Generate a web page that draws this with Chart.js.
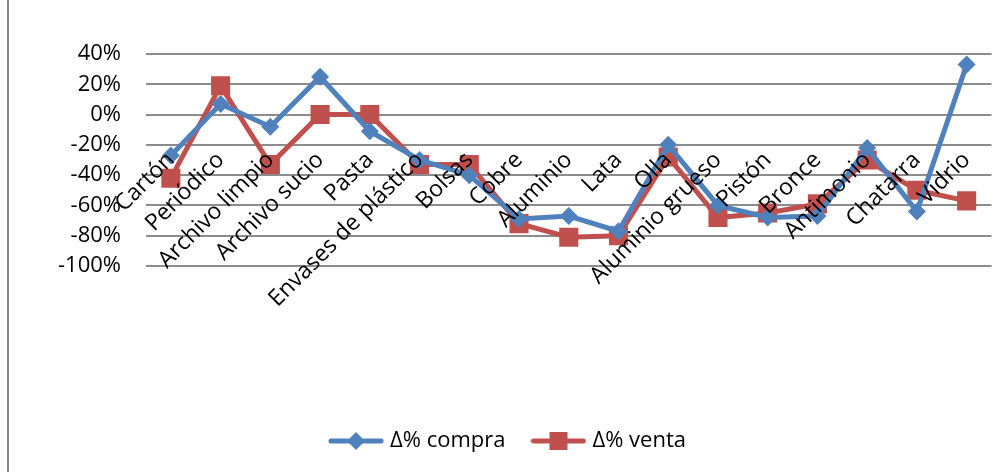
<!DOCTYPE html>
<html>
<head>
<meta charset="utf-8">
<script src="https://cdn.jsdelivr.net/npm/chart.js@4"></script>
<style>
  html, body { margin: 0; padding: 0; background: #fff; overflow: hidden; }
  #marco { position: relative; width: 994px; height: 472px; overflow: hidden; }
  #marco:before { content: ''; position: absolute; left: 7px; top: 0; bottom: 0; width: 2px; background: #8a8a8a; z-index: 1; }
</style>
</head>
<body>
<div id="marco"><canvas id="grafico" width="1005" height="472"></canvas></div>
<script>
const categorias = ['Cartón', 'Periódico', 'Archivo limpio', 'Archivo sucio', 'Pasta', 'Envases de plástico',
  'Bolsas', 'Cobre', 'Aluminio', 'Lata', 'Olla', 'Aluminio grueso', 'Pistón', 'Bronce', 'Antimonio', 'Chatarra', 'Vidrio'];
const compra = [-27, 7, -8, 25, -11, -30, -40, -69, -67, -77, -20, -60, -68, -67, -22, -64, 33];
const venta = [-42, 19, -33, 0, 0, -33, -33, -72, -81, -80, -28, -68, -65, -59, -30, -50, -57];
const ticksY = [40, 20, 0, -20, -40, -60, -80, -100];

const AZUL = '#4F81BD';
const ROJO = '#C0504D';
const fuente = { family: "'Open Sans', sans-serif", size: 22 };
const fuenteCat = { family: "'Open Sans', sans-serif", size: 23 };

// icono de leyenda: linea con marcador al centro
function icono(color, estilo) {
  const c = document.createElement('canvas');
  c.width = 56; c.height = 22;
  const g = c.getContext('2d');
  g.strokeStyle = color;
  g.lineWidth = 5;
  g.lineCap = 'round';
  g.beginPath(); g.moveTo(3, 11); g.lineTo(53, 11); g.stroke();
  g.fillStyle = color;
  g.beginPath();
  if (estilo === 'rombo') {
    g.moveTo(28, 2); g.lineTo(37, 11); g.lineTo(28, 20); g.lineTo(19, 11);
  } else {
    g.rect(19, 2, 18, 18);
  }
  g.fill();
  return c;
}
const iconos = [icono(AZUL, 'rombo'), icono(ROJO, 'cuadro')];

const ctx = document.getElementById('grafico').getContext('2d');
const grafico = new Chart(ctx, {
  type: 'line',
  data: {
    labels: categorias,
    datasets: [{
      label: 'Δ% compra',
      data: compra,
      borderColor: AZUL,
      backgroundColor: AZUL,
      borderWidth: 5,
      pointStyle: 'rectRot',
      pointRadius: 9,
      pointBorderWidth: 0,
      tension: 0
    }, {
      label: 'Δ% venta',
      data: venta,
      borderColor: ROJO,
      backgroundColor: ROJO,
      borderWidth: 5,
      pointStyle: 'rect',
      pointRadius: 13.5,
      pointBorderWidth: 0,
      tension: 0
    }]
  },
  options: {
    responsive: false,
    animation: false,
    // el lienzo es algo mas ancho que la ventana: la etiqueta girada reserva margen a la derecha
    layout: { padding: { left: 17, right: 3, top: 54, bottom: 10 } },
    plugins: {
      tooltip: { enabled: false },
      legend: {
        position: 'bottom',
        // titulo vacio: deja el hueco blanco entre el grafico y la leyenda
        title: { display: true, text: ' ', font: { size: 10, lineHeight: 1 }, padding: { top: 124, bottom: 0 } },
        labels: {
          font: fuente,
          color: '#000',
          usePointStyle: true,
          pointStyleWidth: 46,
          padding: 30,
          generateLabels: (chart) => chart.data.datasets.map((ds, i) => ({
            text: ds.label,
            pointStyle: iconos[i],
            fillStyle: ds.borderColor,
            strokeStyle: ds.borderColor,
            lineWidth: 0,
            fontColor: '#000',
            datasetIndex: i
          }))
        }
      }
    },
    scales: {
      x: {
        position: { y: 0 },
        offset: true,
        grid: { display: false, drawTicks: false },
        border: { display: false },
        ticks: {
          z: 1, // etiquetas por encima de las lineas
          font: fuenteCat,
          color: '#000',
          minRotation: 45,
          maxRotation: 45,
          autoSkip: false,
          padding: 32
        },
        afterFit: (s) => {
          s.paddingLeft = 0; s.paddingRight = 0; s.paddingTop = 0; s.paddingBottom = 0;
        }
      },
      y: {
        min: -100,
        max: 40,
        grid: { color: '#8c8c8c', lineWidth: 2, drawTicks: false },
        border: { display: false },
        ticks: {
          font: fuente,
          color: '#000',
          padding: 25,
          callback: (v) => v + '%'
        },
        afterBuildTicks: (s) => { s.ticks = ticksY.map(v => ({ value: v })); },
        afterFit: (s) => {
          s.width = 129;
          s.paddingTop = 0; s.paddingBottom = 0;
        }
      }
    }
  }
});
</script>
</body>
</html>
